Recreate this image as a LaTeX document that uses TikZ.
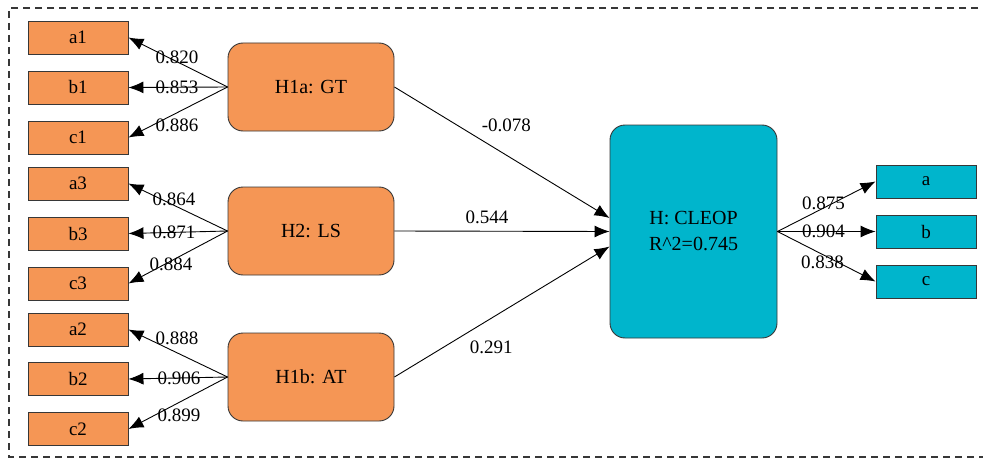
\documentclass[tikz,border=0pt]{standalone}
\usepackage{fontspec}
\setmainfont{Liberation Serif}
\usetikzlibrary{arrows.meta}
\definecolor{latentorange}{RGB}{245,150,85}
\definecolor{targetcyan}{RGB}{0,181,204}
\definecolor{edgegray}{RGB}{55,55,55}
\begin{document}
\begin{tikzpicture}[x=1pt, y=-1pt, line width=0.9pt, >={Latex[length=15pt,width=12pt]},
    item/.style={draw=edgegray, fill=latentorange, minimum width=100pt, minimum height=33pt, inner sep=0pt, font=\fontsize{19}{21}\selectfont},
    latent/.style={draw=edgegray, fill=latentorange, rounded corners=15pt, minimum width=166pt, minimum height=88pt, inner sep=0pt, font=\fontsize{20}{22}\selectfont},
    citem/.style={item, fill=targetcyan},
    wt/.style={inner sep=0pt, font=\fontsize{19}{21}\selectfont}]
  \useasboundingbox (0,0) rectangle (983,460);
  \draw[edgegray, dash pattern=on 7pt off 5pt, line width=1.1pt] (990,8) -- (9,8) -- (9,457) -- (990,457);
  % indicators
  \node[item] (a1) at (78,37.5) {a1};
  \node[item] (b1) at (78,87.5) {b1};
  \node[item] (c1) at (78,137.5) {c1};
  \node[item] (a3) at (78,183.5) {a3};
  \node[item] (b3) at (78,233.5) {b3};
  \node[item] (c3) at (78,283.5) {c3};
  \node[item] (a2) at (78,329.5) {a2};
  \node[item] (b2) at (78,379) {b2};
  \node[item] (c2) at (78,429) {c2};
  % constructs
  \node[latent] (gt) at (311,87) {H1a: GT};
  \node[latent] (ls) at (311,231) {H2: LS};
  \node[latent] (at) at (311,377) {H1b: AT};
  \node[draw=edgegray, fill=targetcyan, rounded corners=15pt, minimum width=167pt, minimum height=213pt, align=center, font=\fontsize{20}{26}\selectfont] (cleop) at (693.5,231.5) {H: CLEOP\\R\^{}2=0.745};
  \node[citem] (a) at (926,181.5) {a};
  \node[citem] (b) at (926,231.5) {b};
  \node[citem] (c) at (926,281.5) {c};
  % loadings
  \draw[->] (gt.west) -- (a1.east) node[wt, pos=.51, yshift=4pt] (l-a1) {0.820};
  \draw[->] (gt.west) -- (b1.east) node[wt, pos=.51] (l-b1) {0.853};
  \draw[->] (gt.west) -- (c1.east) node[wt, pos=.51, yshift=-13pt] (l-c1) {0.886};
  \draw[->] (ls.west) -- (a3.east) node[wt, pos=.54, yshift=6pt] (l-a3) {0.864};
  \draw[->] (ls.west) -- (b3.east) node[wt, pos=.54] (l-b3) {0.871};
  \draw[->] (ls.west) -- (c3.east) node[wt, pos=.57, yshift=-3pt] (l-c3) {0.884};
  \draw[->] (at.west) -- (a2.east) node[wt, pos=.51, yshift=14pt] (l-a2) {0.888};
  \draw[->] (at.west) -- (b2.east) node[wt, pos=.49] (l-b2) {0.906};
  \draw[->] (at.west) -- (c2.east) node[wt, pos=.49, yshift=-12.5pt] (l-c2) {0.899};
  % paths
  \draw[->] (gt.east) -- ([yshift=13.5pt]cleop.west) node[wt, pos=.52, yshift=30pt] (l-gt) {-0.078};
  \draw[->] (ls.east) -- (cleop.west) node[wt, pos=.43, yshift=14pt] (l-ls) {0.544};
  \draw[->] (at.east) -- ([yshift=-15pt]cleop.west) node[wt, pos=.45, yshift=-29pt] (l-at) {0.291};
  \draw[->] (cleop.east) -- (a.west) node[wt, pos=.47, yshift=5pt] (l-a) {0.875};
  \draw[->] (cleop.east) -- (b.west) node[wt, pos=.47] (l-b) {0.904};
  \draw[->] (cleop.east) -- (c.west) node[wt, pos=.46, yshift=-8pt] (l-c) {0.838};
\end{tikzpicture}
\end{document}
